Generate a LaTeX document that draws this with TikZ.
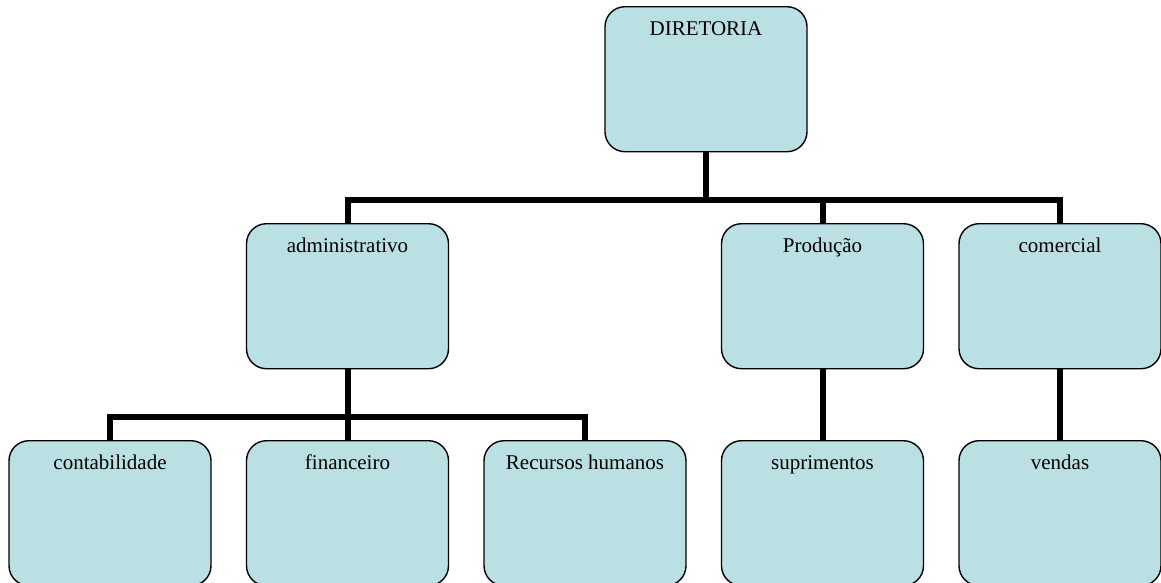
\documentclass[tikz,border=0pt]{standalone}
\usepackage{fontspec}
\setmainfont{Liberation Serif}
\definecolor{azulclaro}{RGB}{187,224,227}
\begin{document}
\begin{tikzpicture}[x=1pt, y=-1pt, font=\fontsize{21}{25}\selectfont, line join=miter,
 caixa/.style={draw=black, line width=1.4pt, fill=azulclaro, rounded corners=20pt, anchor=north,
  minimum width=202pt, inner sep=0pt, text height=29pt, text depth=116pt},
 ligacao/.style={line width=6pt}]
 \def\passo{237.5}\def\xa{110}
 \useasboundingbox (0,0) rectangle (1161,582);
 % caixas
 \node[caixa] (dir) at (706,6) {DIRETORIA};
 \node[caixa] (adm) at (\xa+\passo,223) {administrativo};
 \node[caixa] (prod) at (\xa+3*\passo,223) {Produção};
 \node[caixa] (com) at (\xa+4*\passo,223) {comercial};
 \node[caixa] (cont) at (\xa,440) {contabilidade};
 \node[caixa] (fin) at (\xa+\passo,440) {financeiro};
 \node[caixa] (rh) at (\xa+2*\passo,440) {Recursos humanos};
 \node[caixa] (sup) at (\xa+3*\passo,440) {suprimentos};
 \node[caixa] (ven) at (\xa+4*\passo,440) {vendas};
 % ligacoes
 \coordinate (barra1) at (706,200);
 \coordinate (barra2) at (\xa+\passo,417);
 \draw[ligacao] (dir.south) -- (barra1);
 \draw[ligacao] (adm.north) |- (barra1) -| (com.north);
 \draw[ligacao] (prod.north) |- (barra1);
 \draw[ligacao] (adm.south) -- (fin.north);
 \draw[ligacao] (cont.north) |- (barra2) -| (rh.north);
 \draw[ligacao] (prod.south) -- (sup.north);
 \draw[ligacao] (com.south) -- (ven.north);
\end{tikzpicture}
\end{document}
